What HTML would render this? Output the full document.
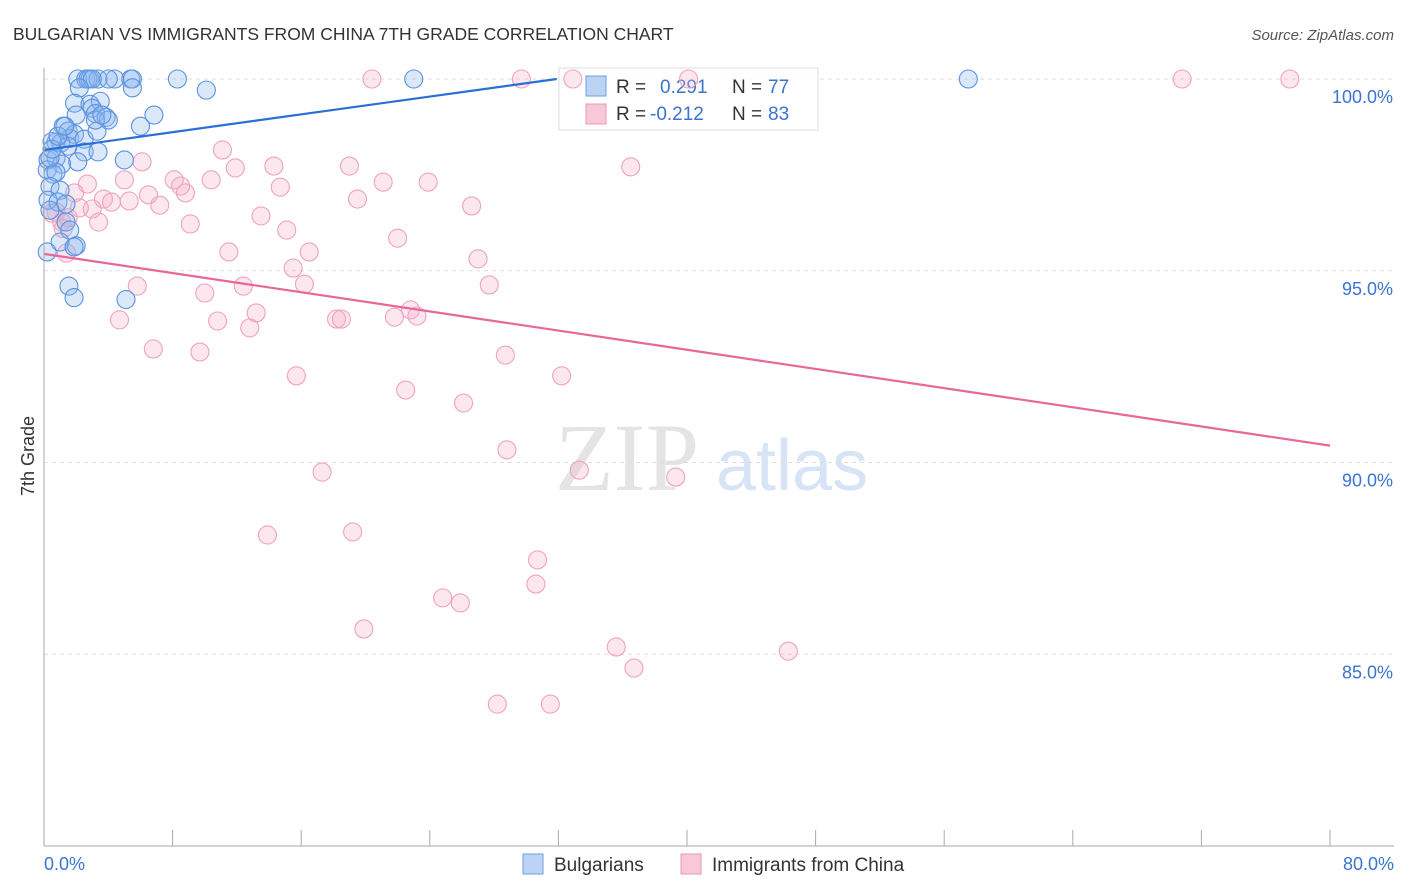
<!DOCTYPE html>
<html><head><meta charset="utf-8"><style>
body{margin:0;background:#fff;font-family:"Liberation Sans",sans-serif;}
#wrap{position:relative;width:1406px;height:892px;overflow:hidden}
</style></head><body>
<div id="wrap">
<svg id="svg" width="1406" height="892" xmlns="http://www.w3.org/2000/svg">
<text x="13" y="40" font-size="17.5" fill="#333">BULGARIAN VS IMMIGRANTS FROM CHINA 7TH GRADE CORRELATION CHART</text>
<text x="1394" y="40" font-size="15" fill="#555" font-style="italic" text-anchor="end">Source: ZipAtlas.com</text>
<text x="34" y="456" font-size="18" fill="#333" transform="rotate(-90 34 456)" text-anchor="middle">7th Grade</text>
<text x="555" y="490" font-size="96" fill="#e4e4e4" font-family="Liberation Serif,serif">ZIP</text>
<text x="716" y="490" font-size="72" fill="#d6e4f5">atlas</text>
<g id="grid"></g>
<g>
<rect x="559" y="68" width="259" height="62" fill="#fff" fill-opacity="0.85" stroke="#ddd"/>
<rect x="586" y="76" width="20" height="20" fill="#bcd4f4" stroke="#6d9fe0"/>
<rect x="586" y="104" width="20" height="20" fill="#f9c8d8" stroke="#e898b3"/>
<text x="616" y="93" font-size="19" fill="#333">R = </text><text x="660" y="93" font-size="19" fill="#3a74d0">0.291</text>
<text x="732" y="93" font-size="19" fill="#333">N = </text><text x="768" y="93" font-size="19" fill="#3a74d0">77</text>
<text x="616" y="120" font-size="19" fill="#333">R = </text><text x="650" y="120" font-size="19" fill="#3a74d0">-0.212</text>
<text x="732" y="120" font-size="19" fill="#333">N = </text><text x="768" y="120" font-size="19" fill="#3a74d0">83</text>
</g>
<g id="pts"></g><g id="lines"></g>
<line x1="44" y1="68" x2="44" y2="846" stroke="#aaa"/>
<line x1="44" y1="846" x2="1394" y2="846" stroke="#aaa"/>
<g id="xt"></g>
<text x="44" y="870" font-size="18" fill="#3a74d0">0.0%</text>
<text x="1394" y="870" font-size="18" fill="#3a74d0" text-anchor="end">80.0%</text>
<g><rect x="523" y="854" width="20" height="20" fill="#bcd4f4" stroke="#6d9fe0"/><text x="554" y="871" font-size="19" fill="#333">Bulgarians</text></g>
<g><rect x="681" y="854" width="20" height="20" fill="#f9c8d8" stroke="#e898b3"/><text x="712" y="871" font-size="19" fill="#333">Immigrants from China</text></g>
</svg></div>
<script>
const yTicks=[100,95,90,85];
const yTickLabels=["100.0%","95.0%","90.0%","85.0%"];
const xTicks=[0,8,16,24,32,40,48,56,64,72,80];
const blueX=[2.1,2.6,2.86,3.36,4.4,5.4,5.5,8.3,23,57.5,4.0,2.74,3.0,2.2,5.5,10.1,1.9,2.86,3.5,2.0,3.0,3.2,3.86,4.0,6.84,6.0,1.2,1.5,1.6,1.9,0.75,1.05,1.5,2.5,3.3,2.5,3.36,0.5,0.25,0.75,1.1,2.1,5.0,0.2,0.56,0.75,0.37,1.0,0.25,0.87,1.37,0.37,1.37,1.6,1.0,2.0,1.87,0.2,1.55,1.87,5.1,0.37,0.5,0.87,1.3,3.2,3.6];
const blueY=[100,100,100,100,100,100,100,100,100,100,100,100,100,99.77,99.77,99.71,99.37,99.34,99.42,99.06,99.24,99.1,99.0,98.93,99.06,98.77,98.77,98.64,98.45,98.56,98.35,98.33,98.25,98.43,98.64,98.1,98.1,98.37,97.89,97.94,97.78,97.84,97.89,97.63,97.52,97.57,97.2,97.1,96.84,96.79,96.74,96.58,96.27,96.06,95.75,95.65,95.62,95.49,94.6,94.3,94.25,97.94,98.17,98.51,98.77,98.93,99.06];
const pinkX=[20.4,29.7,32.9,40.1,70.8,77.5,11.1,6.1,14.3,19.0,36.5,11.9,5.0,8.1,21.1,23.9,8.5,2.7,14.7,10.4,8.8,6.5,1.9,3.7,4.2,5.3,7.2,19.5,26.6,3.0,0.75,2.2,13.5,3.4,9.1,15.1,22.0,1.5,1.1,11.5,16.5,27.0,1.4,15.5,5.8,12.4,16.2,27.7,10.0,4.7,10.8,13.2,12.8,18.2,18.5,21.8,22.8,23.2,6.8,9.7,28.7,32.2,15.7,22.5,26.1,28.8,17.3,33.3,39.3,13.9,19.2,30.7,30.6,24.8,25.9,19.9,35.6,46.3,36.7,28.2,31.5,0.5,1.2];
const pinkY=[100,100,100,100,100,100,98.15,97.84,97.73,97.73,97.71,97.68,97.37,97.37,97.31,97.31,97.21,97.26,97.18,97.37,97.03,96.98,97.03,96.87,96.79,96.82,96.71,96.87,96.69,96.61,96.53,96.64,96.43,96.27,96.22,96.06,95.85,96.38,96.27,95.49,95.49,95.31,95.46,95.07,94.6,94.6,94.65,94.63,94.42,93.72,93.69,93.9,93.51,93.74,93.74,93.79,93.98,93.82,92.96,92.88,92.8,92.26,92.26,91.89,91.55,90.33,89.75,89.8,89.62,88.11,88.19,87.46,86.83,86.47,86.34,85.66,85.19,85.08,84.64,83.7,83.7,96.5,96.1];
const blueTrend=[98.15,0.058];
const pinkTrend=[95.44,-0.0625];
const sx=v=>44+v*16.075, sy=v=>79+(100-v)*38.35;
const NS="http://www.w3.org/2000/svg";
function mk(tag,attrs,parent){const e=document.createElementNS(NS,tag);for(const k in attrs)e.setAttribute(k,attrs[k]);document.getElementById(parent).appendChild(e);return e;}
yTicks.forEach((t,i)=>{
  const g=mk('line',{x1:44,x2:1394,y1:sy(t),y2:sy(t),stroke:'#ddd','stroke-dasharray':'4,4'},'grid');
  
  
  const tx=mk('text',{x:1393,y:sy(t)+24,'font-size':18,fill:'#3a74d0','text-anchor':'end'},'grid');
  tx.textContent=yTickLabels[i];
  
  
});
xTicks.forEach(t=>{
  const l=mk('line',{x1:sx(t),x2:sx(t),y1:830,y2:846,stroke:'#aaa'},'xt');
  
  
});
pinkX.forEach((x,i)=>{
  const c=mk('circle',{cx:sx(x),cy:sy(pinkY[i]),r:9,fill:'rgba(246,175,200,0.3)',stroke:'#eea3bd','stroke-width':1.1},'pts');
  
  
});
blueX.forEach((x,i)=>{
  const c=mk('circle',{cx:sx(x),cy:sy(blueY[i]),r:9,fill:'rgba(140,182,238,0.32)',stroke:'#5a92e0','stroke-width':1.1},'pts');
  
  
});
const bx2=(100-blueTrend[0])/blueTrend[1];
const bl=mk('line',{x1:sx(0),y1:sy(blueTrend[0]),x2:sx(bx2),y2:sy(100),stroke:'#2a6fd6','stroke-width':2.2},'lines');


const pl=mk('line',{x1:sx(0),y1:sy(pinkTrend[0]),x2:sx(80),y2:sy(pinkTrend[0]+80*pinkTrend[1]),stroke:'#e8679a','stroke-width':2.2},'lines');


</script>
</body></html>
